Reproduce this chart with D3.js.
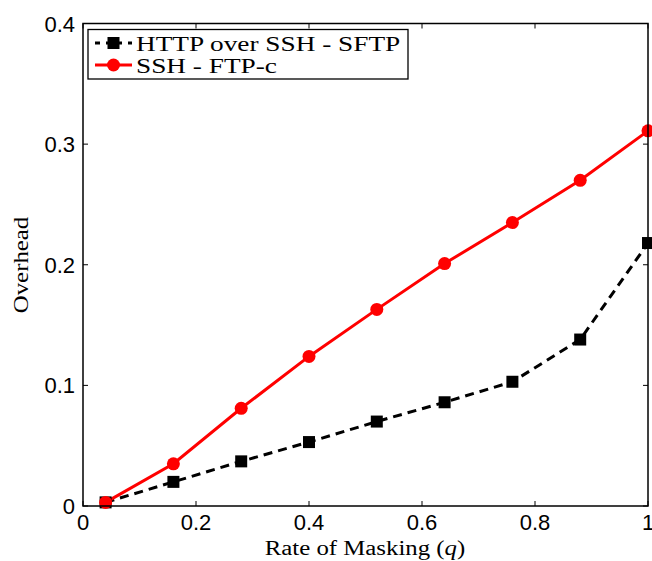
<!DOCTYPE html>
<html><head><meta charset="utf-8">
<script src="https://cdn.jsdelivr.net/npm/d3@7"></script>
<style>body{margin:0;background:#fff}svg{display:block}</style>
</head><body>
<svg id="c" width="652" height="561"></svg>
<script>
const qValues = [0.04, 0.16, 0.28, 0.40, 0.52, 0.64, 0.76, 0.88, 1.0];
const httpOverSsh = [0.003, 0.020, 0.037, 0.053, 0.070, 0.086, 0.103, 0.138, 0.218];
const sshFtp = [0.003, 0.035, 0.081, 0.124, 0.163, 0.201, 0.235, 0.270, 0.311];
const xTicks = [0, 0.2, 0.4, 0.6, 0.8, 1];
const yTicks = [0, 0.1, 0.2, 0.3, 0.4];
const seriesNames = ["HTTP over SSH - SFTP", "SSH - FTP-c"];

const svg = d3.select("#c");
const L = 83, R = 648, T = 23.5, B = 506;
const x = d3.scaleLinear().domain([0, 1]).range([L, R]);
const y = d3.scaleLinear().domain([0, 0.4]).range([B, T]);
const fmt = d => d === 0 ? "0" : d === 1 ? "1" : String(d);
const tickFont = "'Liberation Sans', Arial, sans-serif";
const serif = "'Liberation Serif', 'Times New Roman', serif";
const widen = 1.24; // serif labels are wider in the original (Computer Modern)
function stretch(sel) {
  const w = sel.node().getComputedTextLength();
  sel.attr("textLength", w * widen).attr("lengthAdjust", "spacingAndGlyphs");
}

// ticks (inside, all four sides)
const g = svg.append("g");
const tl = 5;
xTicks.forEach(t => {
  g.append("line").attr("x1", x(t)).attr("x2", x(t)).attr("y1", B).attr("y2", B - tl).attr("stroke", "#000");
  g.append("line").attr("x1", x(t)).attr("x2", x(t)).attr("y1", T).attr("y2", T + tl).attr("stroke", "#000");
  g.append("text").attr("x", x(t)).attr("y", 530).attr("text-anchor", "middle")
    .attr("font-family", tickFont).attr("font-size", 22).text(fmt(t));
});
yTicks.forEach(t => {
  g.append("line").attr("x1", L).attr("x2", L + tl).attr("y1", y(t)).attr("y2", y(t)).attr("stroke", "#000");
  g.append("line").attr("x1", R).attr("x2", R - tl).attr("y1", y(t)).attr("y2", y(t)).attr("stroke", "#000");
  g.append("text").attr("x", 75).attr("y", y(t) + 8).attr("text-anchor", "end")
    .attr("font-family", tickFont).attr("font-size", 22).text(fmt(t));
});

// lines
const line = d3.line().x((d, i) => x(qValues[i])).y(d => y(d));
svg.append("path").datum(httpOverSsh).attr("d", line).attr("fill", "none")
  .attr("stroke", "#000").attr("stroke-width", 3).attr("stroke-dasharray", "9,6");
svg.append("path").datum(sshFtp).attr("d", line).attr("fill", "none")
  .attr("stroke", "#ff0000").attr("stroke-width", 3);

svg.append("g").selectAll("rect").data(httpOverSsh).join("rect")
  .attr("x", (d, i) => x(qValues[i]) - 6).attr("y", d => y(d) - 6)
  .attr("width", 12).attr("height", 12).attr("fill", "#000");
svg.append("g").selectAll("circle").data(sshFtp).join("circle")
  .attr("cx", (d, i) => x(qValues[i])).attr("cy", d => y(d)).attr("r", 6.5).attr("fill", "#ff0000");

// frame
svg.append("rect").attr("x", L).attr("y", T).attr("width", R - L).attr("height", B - T)
  .attr("fill", "none").attr("stroke", "#000").attr("stroke-width", 1.5);

// legend
const lg = svg.append("g");
lg.append("rect").attr("x", 88).attr("y", 29.5).attr("width", 320).attr("height", 49.5)
  .attr("fill", "#fff").attr("stroke", "#000").attr("stroke-width", 1.3);
const rows = [43, 65];
lg.append("line").attr("x1", 95).attr("x2", 132).attr("y1", rows[0]).attr("y2", rows[0])
  .attr("stroke", "#000").attr("stroke-width", 3).attr("stroke-dasharray", "5,6");
lg.append("rect").attr("x", 107.5).attr("y", rows[0] - 6).attr("width", 12).attr("height", 12).attr("fill", "#000");
lg.append("line").attr("x1", 95).attr("x2", 132).attr("y1", rows[1]).attr("y2", rows[1])
  .attr("stroke", "#ff0000").attr("stroke-width", 3);
lg.append("circle").attr("cx", 113.5).attr("cy", rows[1]).attr("r", 6.5).attr("fill", "#ff0000");
seriesNames.forEach((n, i) => {
  const t = lg.append("text").attr("x", 136).attr("y", rows[i] + 7.5).attr("font-family", serif)
    .attr("font-size", 22).text(n);
  stretch(t);
});

// axis labels
const xl = svg.append("text").attr("x", 365).attr("y", 555).attr("text-anchor", "middle")
  .attr("font-family", serif).attr("font-size", 20);
xl.append("tspan").text("Rate of Masking (");
xl.append("tspan").attr("font-style", "italic").text("q");
xl.append("tspan").text(")");
stretch(xl);
const yl = svg.append("text").attr("transform", "translate(28,265) rotate(-90)").attr("text-anchor", "middle")
  .attr("font-family", serif).attr("font-size", 20).text("Overhead");
stretch(yl);
</script>
</body></html>
